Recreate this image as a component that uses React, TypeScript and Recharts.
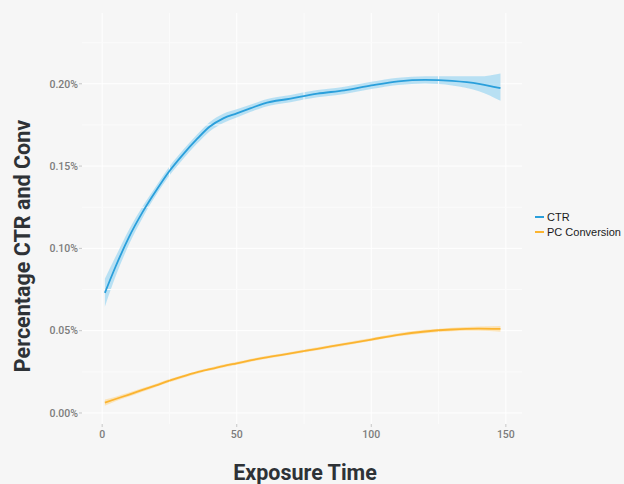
import React from 'react';
import {
  ComposedChart,
  Line,
  Area,
  XAxis,
  YAxis,
  CartesianGrid,
  ReferenceLine,
} from 'recharts';

// Exposure time (x)
const exposure = [1, 5, 10, 15, 20, 25, 30, 35, 40, 45, 50, 55, 60, 70, 80, 90, 100, 110, 120, 130, 140, 148];
// CTR (%) smoothed mean and confidence band
const ctr = [0.073, 0.089, 0.107, 0.122, 0.135, 0.147, 0.157, 0.166, 0.174, 0.179, 0.182, 0.185, 0.188, 0.191, 0.194, 0.196, 0.199, 0.2015, 0.2024, 0.2018, 0.2, 0.1973];
const ctrLow = [0.0645, 0.083, 0.1025, 0.1185, 0.1322, 0.1442, 0.1542, 0.1632, 0.1712, 0.1762, 0.1795, 0.1828, 0.1858, 0.1888, 0.1918, 0.1938, 0.1968, 0.1993, 0.2002, 0.199, 0.1955, 0.1897];
const ctrHigh = [0.0815, 0.095, 0.1115, 0.1255, 0.1378, 0.1498, 0.1598, 0.1688, 0.1768, 0.1818, 0.1845, 0.1872, 0.1902, 0.1932, 0.1962, 0.1982, 0.2012, 0.2037, 0.2046, 0.2046, 0.2045, 0.2063];
// PC Conversion (%) smoothed mean and confidence band
const conv = [0.0063, 0.0085, 0.0112, 0.014, 0.0168, 0.0196, 0.0222, 0.0246, 0.0266, 0.0285, 0.0302, 0.0319, 0.0335, 0.0362, 0.039, 0.0418, 0.0446, 0.0475, 0.0495, 0.0507, 0.0512, 0.0511];
const convLow = [0.0044, 0.0071, 0.01, 0.0129, 0.0158, 0.0186, 0.0213, 0.0237, 0.0257, 0.0276, 0.0293, 0.031, 0.0326, 0.0353, 0.0381, 0.0409, 0.0437, 0.0466, 0.0485, 0.0496, 0.0499, 0.0494];
const convHigh = [0.0082, 0.0099, 0.0124, 0.0151, 0.0178, 0.0206, 0.0231, 0.0255, 0.0275, 0.0294, 0.0311, 0.0328, 0.0344, 0.0371, 0.0399, 0.0427, 0.0455, 0.0484, 0.0505, 0.0518, 0.0525, 0.0528];

const seriesNames = ['CTR', 'PC Conversion'];
const yTicks = [0, 0.05, 0.1, 0.15, 0.2];
const yMinor = [0.025, 0.075, 0.125, 0.175, 0.225];
const xTicks = [0, 50, 100, 150];
const xMinor = [25, 75, 125];

const BLUE = '#2a9fdb';
const BLUE_BAND = '#a9dbf3';
const ORANGE = '#fbb430';
const ORANGE_BAND = '#fddc9c';
const BG = '#f6f6f6';
const seriesColors = [BLUE, ORANGE];

const data = exposure.map((x, i) => ({
  x,
  ctr: ctr[i],
  ctrBand: [ctrLow[i], ctrHigh[i]],
  conv: conv[i],
  convBand: [convLow[i], convHigh[i]],
}));

const tickStyle = { fontFamily: 'Roboto, sans-serif', fontSize: 10.5, fill: '#7c7c7c', fontWeight: 500 };
const titleStyle = { fontFamily: 'Roboto, sans-serif', fontWeight: 700, fontSize: 21.5, fill: '#2e3236' };

export default function App() {
  return (
    <div style={{ position: 'absolute', left: 0, top: 0, width: 624, height: 484, background: BG }}>
      <ComposedChart
        width={624}
        height={484}
        data={data}
        margin={{ top: 13, right: 102, bottom: 0, left: 0 }}
      >
        <CartesianGrid stroke="#ffffff" strokeWidth={1} horizontalValues={yTicks} verticalValues={xTicks} />
        {yMinor.map((v) => (
          <ReferenceLine key={'ym' + v} y={v} stroke="#fbfbfb" strokeWidth={1} />
        ))}
        {xMinor.map((v) => (
          <ReferenceLine key={'xm' + v} x={v} stroke="#fbfbfb" strokeWidth={1} />
        ))}
        <XAxis
          dataKey="x"
          type="number"
          domain={[-7.5, 156]}
          ticks={xTicks}
          allowDataOverflow
          axisLine={false}
          tickLine={{ stroke: '#c8c8c8' }}
          tickSize={3}
          tickMargin={4}
          tick={tickStyle}
          height={60}
          label={() => (
            <text x={305} y={472} textAnchor="middle" dominantBaseline="central" style={titleStyle}>
              Exposure Time
            </text>
          )}
        />
        <YAxis
          type="number"
          domain={[-0.0067, 0.243]}
          ticks={yTicks}
          allowDataOverflow
          axisLine={false}
          tickLine={{ stroke: '#c8c8c8' }}
          tickSize={3}
          tickMargin={1}
          tick={tickStyle}
          tickFormatter={(v: number) => `${v.toFixed(2)}%`}
          width={82}
          label={() => (
            <text
              x={22}
              y={246}
              transform="rotate(-90, 22, 246)"
              textAnchor="middle"
              dominantBaseline="central"
              style={titleStyle}
            >
              Percentage CTR and Conv
            </text>
          )}
        />
        <Area
          dataKey="ctrBand"
          type="monotone"
          stroke="none"
          fill={BLUE_BAND}
          fillOpacity={0.8}
          legendType="none"
          isAnimationActive={false}
          activeDot={false}
        />
        <Area
          dataKey="convBand"
          type="monotone"
          stroke="none"
          fill={ORANGE_BAND}
          fillOpacity={0.7}
          legendType="none"
          isAnimationActive={false}
          activeDot={false}
        />
        <Line
          dataKey="ctr"
          name={seriesNames[0]}
          type="monotone"
          stroke={BLUE}
          strokeWidth={1.8}
          dot={false}
          isAnimationActive={false}
        />
        <Line
          dataKey="conv"
          name={seriesNames[1]}
          type="monotone"
          stroke={ORANGE}
          strokeWidth={1.8}
          dot={false}
          isAnimationActive={false}
        />
      </ComposedChart>
      <div
        style={{
          position: 'absolute',
          left: 535,
          top: 209,
          fontFamily: 'Liberation Sans, Arial, sans-serif',
          fontSize: 11,
          color: '#1a1a1a',
        }}
      >
        {seriesNames.map((name, i) => (
          <div key={name} style={{ display: 'flex', alignItems: 'center', height: 15 }}>
            <span style={{ display: 'inline-block', width: 9, height: 2, background: seriesColors[i], marginRight: 3 }} />
            <span>{name}</span>
          </div>
        ))}
      </div>
    </div>
  );
}
